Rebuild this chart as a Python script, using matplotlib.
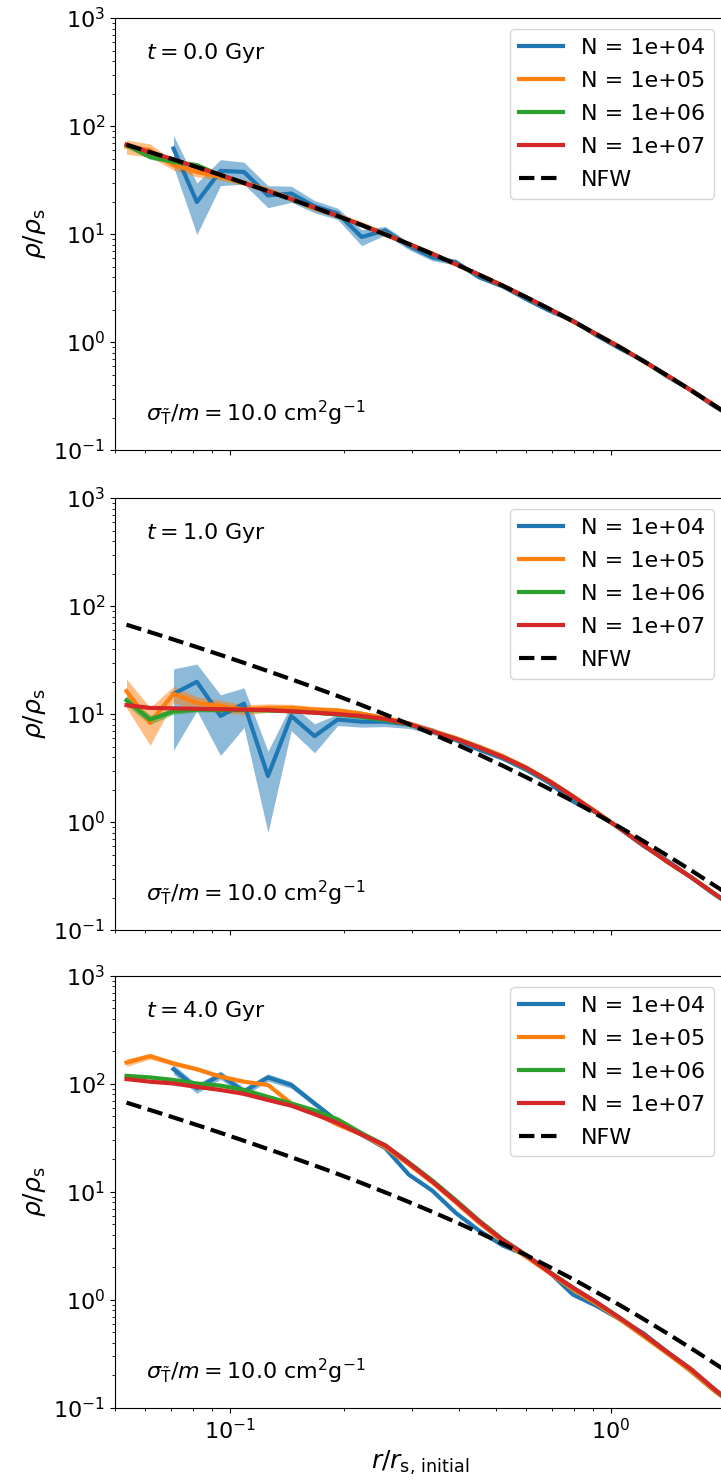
import numpy as np
import matplotlib.pyplot as plt

plt.rcParams['font.size'] = 16
plt.rcParams['axes.labelsize'] = 18

# radial bins r / r_s,initial
r = [0.0536, 0.0618, 0.0712, 0.0820, 0.0946, 0.109, 0.126, 0.145, 0.167, 0.192,
     0.222, 0.256, 0.295, 0.340, 0.392, 0.451, 0.520, 0.600, 0.691, 0.796,
     0.918, 1.058, 1.220, 1.406, 1.621, 1.868, 2.153]

# initial NFW profile
nfw = [67.2, 57.4, 49.0, 41.7, 35.3, 29.8, 25.0, 21.0, 17.6, 14.7,
       12.1, 9.91, 8.09, 6.55, 5.27, 4.21, 3.33, 2.60, 2.02, 1.56,
       1.18, 0.893, 0.665, 0.491, 0.359, 0.260, 0.188]

times = ['0.0', '1.0', '4.0']
labels = ['N = 1e+04', 'N = 1e+05', 'N = 1e+06', 'N = 1e+07']
colors = ['C0', 'C1', 'C2', 'C3']

# ---- t = 0 Gyr ----  (N=1e4 starts at the third bin)
blue_t0 = [62, 19.8, 38.5, 37.6, 22.8, 23.7, 18.1, 15.5, 9.4, 10.8,
           7.8, 6.1, 5.5, 4.0, 3.3, 2.5, 1.95, 1.58, 1.15, 0.87,
           0.67, 0.48, 0.36, 0.255, 0.19]
blue_t0_err = [0.32, 0.5, 0.27, 0.23, 0.23, 0.17, 0.13, 0.12, 0.17, 0.09,
               0.08, 0.07, 0.06, 0.05, 0.05, 0.04, 0.04, 0.04, 0.03, 0.03,
               0.03, 0.03, 0.03, 0.03, 0.03]
orange_t0 = [64.5, 60, 43.5, 37.6, 33.8, 30.0, 25.5, 21.3, 17.2, 14.8,
             12.3, 10.0, 8.1, 6.6, 5.25, 4.2, 3.35, 2.6, 2.02, 1.55,
             1.18, 0.9, 0.66, 0.49, 0.36, 0.26, 0.187]
orange_t0_err = [0.15, 0.14, 0.1, 0.1, 0.07, 0.06, 0.05, 0.04, 0.04, 0.03,
                 0.03, 0.02, 0.02, 0.02, 0.015, 0.015, 0.015, 0.01, 0.01, 0.01,
                 0.01, 0.01, 0.01, 0.01, 0.01, 0.01, 0.01]
green_t0 = [66.6, 51.8, 46.7, 43.5, 35.0, 29.6, 25.1, 21.0, 17.5, 14.6,
            12.1, 9.9, 8.1, 6.55, 5.27, 4.2, 3.33, 2.6, 2.02, 1.56,
            1.18, 0.89, 0.665, 0.49, 0.36, 0.26, 0.188]
green_t0_err = [0.05, 0.05, 0.04, 0.04, 0.03, 0.03, 0.02, 0.02, 0.02, 0.01,
                0.01, 0.01, 0.01, 0.01, 0.01, 0.01, 0.01, 0.01, 0.01, 0.01,
                0.01, 0.01, 0.01, 0.01, 0.01, 0.01, 0.01]
red_t0 = [67.5, 57.0, 49.2, 41.5, 35.4, 29.7, 25.0, 21.1, 17.6, 14.7,
          12.1, 9.9, 8.1, 6.55, 5.27, 4.21, 3.33, 2.6, 2.02, 1.56,
          1.18, 0.893, 0.665, 0.491, 0.359, 0.26, 0.188]
red_t0_err = [0.02, 0.02, 0.015, 0.015, 0.01, 0.01, 0.01, 0.01, 0.01, 0.01,
              0.005, 0.005, 0.005, 0.005, 0.005, 0.005, 0.005, 0.005, 0.005, 0.005,
              0.005, 0.005, 0.005, 0.005, 0.005, 0.005, 0.005]

# ---- t = 1 Gyr ----
blue_t1 = [15.4, 19.9, 9.6, 12.5, 2.67, 9.6, 6.25, 8.9, 8.5, 8.5,
           8.0, 7.0, 5.8, 4.7, 3.9, 3.05, 2.3, 1.55, 1.22, 0.87,
           0.6, 0.44, 0.31, 0.215, 0.155]
blue_t1_err = [0.7, 0.46, 0.57, 0.4, 0.7, 0.27, 0.3, 0.12, 0.11, 0.1,
               0.08, 0.07, 0.06, 0.05, 0.05, 0.04, 0.04, 0.04, 0.04, 0.04,
               0.04, 0.04, 0.04, 0.04, 0.04]
orange_t1 = [16.3, 8.3, 15.4, 12.7, 11.9, 11.0, 11.4, 11.4, 11.0, 10.8,
             10.1, 9.2, 8.2, 7.0, 6.0, 5.0, 4.1, 3.2, 2.4, 1.74,
             1.24, 0.87, 0.61, 0.43, 0.31, 0.218, 0.154]
orange_t1_err = [0.3, 0.38, 0.17, 0.14, 0.13, 0.11, 0.09, 0.08, 0.07, 0.06,
                 0.05, 0.04, 0.04, 0.03, 0.03, 0.03, 0.02, 0.02, 0.02, 0.02,
                 0.02, 0.02, 0.02, 0.02, 0.02, 0.02, 0.02]
green_t1 = [13.4, 8.9, 10.6, 11.0, 10.9, 10.9, 10.8, 10.6, 10.3, 9.9,
            9.4, 8.8, 8.0, 6.9, 5.9, 4.9, 4.0, 3.15, 2.38, 1.72,
            1.22, 0.87, 0.61, 0.43, 0.31, 0.218, 0.154]
green_t1_err = [0.1, 0.1, 0.06, 0.05, 0.04, 0.04, 0.03, 0.03, 0.02, 0.02,
                0.02, 0.02, 0.01, 0.01, 0.01, 0.01, 0.01, 0.01, 0.01, 0.01,
                0.01, 0.01, 0.01, 0.01, 0.01, 0.01, 0.01]
red_t1 = [12.1, 11.4, 11.3, 11.2, 11.1, 11.0, 10.9, 10.6, 10.3, 10.0,
          9.6, 9.0, 8.1, 6.9, 5.9, 4.9, 4.0, 3.17, 2.38, 1.72,
          1.22, 0.87, 0.61, 0.43, 0.31, 0.218, 0.154]
red_t1_err = [0.04, 0.03, 0.03, 0.02, 0.02, 0.02, 0.015, 0.015, 0.01, 0.01,
              0.01, 0.01, 0.005, 0.005, 0.005, 0.005, 0.005, 0.005, 0.005, 0.005,
              0.005, 0.005, 0.005, 0.005, 0.005, 0.005, 0.005]

# ---- t = 4 Gyr ----
blue_t4 = [137, 91, 121, 85, 115, 98, 66, 45, 34, 25.5,
           14.5, 10.3, 6.4, 4.4, 3.2, 2.6, 1.8, 1.12, 0.88, 0.66,
           0.49, 0.33, 0.22, 0.145, 0.1]
blue_t4_err = [0.1, 0.1, 0.09, 0.09, 0.08, 0.07, 0.06, 0.05, 0.05, 0.04,
               0.04, 0.04, 0.04, 0.03, 0.03, 0.03, 0.03, 0.03, 0.03, 0.03,
               0.03, 0.03, 0.03, 0.03, 0.03]
orange_t4 = [158, 181, 155, 137, 117, 105, 98, 66, 54, 42,
             34, 26, 18.0, 12.3, 8.0, 5.2, 3.5, 2.5, 1.78, 1.25,
             0.92, 0.66, 0.46, 0.32, 0.22, 0.145, 0.1]
orange_t4_err = [0.08, 0.06, 0.05, 0.04, 0.04, 0.03, 0.03, 0.03, 0.02, 0.02,
                 0.02, 0.02, 0.02, 0.015, 0.015, 0.015, 0.015, 0.015, 0.015, 0.015,
                 0.015, 0.015, 0.015, 0.015, 0.015, 0.015, 0.015]
green_t4 = [119, 115, 109, 101, 96.5, 88, 76, 66, 57, 47,
            35, 27, 18.8, 12.8, 8.4, 5.45, 3.65, 2.6, 1.82, 1.3,
            0.95, 0.68, 0.48, 0.33, 0.23, 0.15, 0.1]
green_t4_err = [0.03, 0.025, 0.02, 0.02, 0.015, 0.015, 0.01, 0.01, 0.01, 0.01,
                0.01, 0.01, 0.01, 0.01, 0.01, 0.01, 0.01, 0.01, 0.01, 0.01,
                0.01, 0.01, 0.01, 0.01, 0.01, 0.01, 0.01]
red_t4 = [111, 105, 101, 94, 88, 81, 71, 63, 52.5, 43.5,
          34, 27, 18.5, 12.5, 8.2, 5.35, 3.6, 2.6, 1.8, 1.3,
          0.95, 0.68, 0.48, 0.33, 0.23, 0.15, 0.1]
red_t4_err = [0.015, 0.01, 0.01, 0.01, 0.01, 0.005, 0.005, 0.005, 0.005, 0.005,
              0.005, 0.005, 0.005, 0.005, 0.005, 0.005, 0.005, 0.005, 0.005, 0.005,
              0.005, 0.005, 0.005, 0.005, 0.005, 0.005, 0.005]

panels = [
    [(blue_t0, blue_t0_err), (orange_t0, orange_t0_err), (green_t0, green_t0_err), (red_t0, red_t0_err)],
    [(blue_t1, blue_t1_err), (orange_t1, orange_t1_err), (green_t1, green_t1_err), (red_t1, red_t1_err)],
    [(blue_t4, blue_t4_err), (orange_t4, orange_t4_err), (green_t4, green_t4_err), (red_t4, red_t4_err)],
]

fig = plt.figure(figsize=(7.21, 14.81), dpi=100)
bottoms = [0.6961, 0.3720, 0.0493]

for k, series in enumerate(panels):
    ax = fig.add_axes([0.1595, bottoms[k], 0.8467, 0.2917])
    for j, (vals, err) in enumerate(series):
        x = r[len(r) - len(vals):]
        v = np.array(vals)
        e = np.array(err)
        ax.fill_between(x, v * (1 - e), v * (1 + e), color=colors[j], alpha=0.5, lw=0)
        ax.plot(x, v, color=colors[j], lw=3, label=labels[j])
    ax.plot(r, nfw, 'k--', lw=3, label='NFW')

    ax.set_xscale('log')
    ax.set_yscale('log')
    ax.set_xlim(0.05, 2)
    ax.set_ylim(0.1, 1000)
    ax.set_ylabel(r'$\rho/\rho_{\rm s}$')
    ax.text(0.05, 0.905, rf'$t = {times[k]}$ Gyr', transform=ax.transAxes)
    ax.text(0.05, 0.05, r'$\sigma_{\tilde{\rm T}}/m = 10.0$ cm$^2$g$^{-1}$',
            transform=ax.transAxes, va='bottom')
    ax.legend(loc='upper right', labelspacing=0.58)
    if k < 2:
        ax.tick_params(labelbottom=False)

ax.set_xlabel(r'$r/r_{\rm s,\,initial}$')

fig.savefig('out.png', dpi=100)
